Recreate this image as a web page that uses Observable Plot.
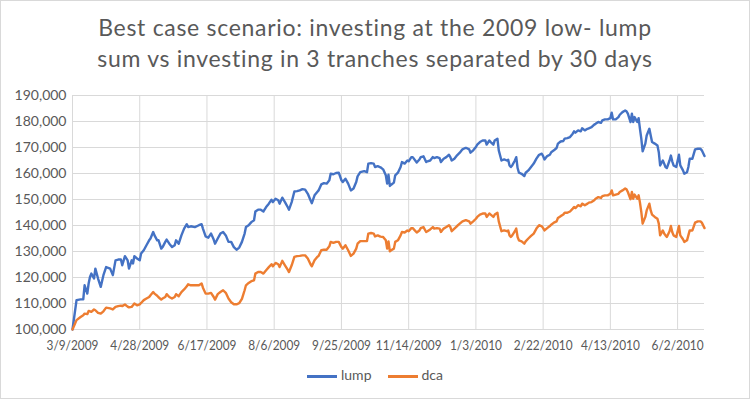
<!DOCTYPE html>
<html><head><meta charset="utf-8">
<script src="https://cdn.jsdelivr.net/npm/d3@7"></script>
<script src="https://cdn.jsdelivr.net/npm/@observablehq/plot@0.6"></script>
<style>
body{margin:0;background:#fff;}
#chart{position:relative;width:750px;height:399px;font-family:Lato,sans-serif;color:#595959;overflow:hidden;background:#fff}
#chart svg{position:absolute;left:0;top:0}
#title{position:absolute;left:0;top:12px;width:100%;text-align:center;font-size:23px;line-height:31px;letter-spacing:0.7px;white-space:nowrap}
#legend{position:absolute;top:365px;left:0;width:100%;text-align:center;font-size:14px;line-height:20px;white-space:nowrap}
#legend span.sw{display:inline-block;width:30px;height:2.5px;vertical-align:middle;margin:0 4px 0 0}
#legend span.item{margin:0 8px}
#border{position:absolute;left:0;top:0;width:750px;height:399px;box-sizing:border-box;border:1px solid #d9d9d9;pointer-events:none}
</style></head>
<body>
<div id="chart">
<div id="title">Best case scenario: investing at the 2009 low- lump<br>sum vs investing in 3 tranches separated by 30 days</div>
<div id="legend"></div>
<div id="border"></div>
</div>
<script>
const dates = ["2009-03-09","2009-03-12","2009-03-15","2009-03-17","2009-03-18","2009-03-20","2009-03-21","2009-03-22","2009-03-23","2009-03-25","2009-03-26","2009-03-28","2009-03-30","2009-04-01","2009-04-03","2009-04-06","2009-04-08","2009-04-10","2009-04-12","2009-04-14","2009-04-15","2009-04-17","2009-04-19","2009-04-20","2009-04-22","2009-04-23","2009-04-24","2009-04-26","2009-04-28","2009-04-29","2009-05-01","2009-05-03","2009-05-05","2009-05-06","2009-05-08","2009-05-09","2009-05-11","2009-05-12","2009-05-14","2009-05-15","2009-05-17","2009-05-18","2009-05-20","2009-05-22","2009-05-24","2009-05-25","2009-05-27","2009-05-29","2009-05-31","2009-06-02","2009-06-03","2009-06-05","2009-06-08","2009-06-11","2009-06-13","2009-06-14","2009-06-16","2009-06-18","2009-06-20","2009-06-22","2009-06-23","2009-06-25","2009-06-27","2009-06-29","2009-07-01","2009-07-03","2009-07-05","2009-07-07","2009-07-09","2009-07-11","2009-07-13","2009-07-15","2009-07-16","2009-07-18","2009-07-20","2009-07-22","2009-07-23","2009-07-25","2009-07-27","2009-07-29","2009-07-31","2009-08-02","2009-08-04","2009-08-05","2009-08-07","2009-08-09","2009-08-10","2009-08-12","2009-08-14","2009-08-16","2009-08-17","2009-08-19","2009-08-21","2009-08-23","2009-08-25","2009-08-27","2009-08-29","2009-08-31","2009-09-02","2009-09-03","2009-09-05","2009-09-07","2009-09-08","2009-09-10","2009-09-12","2009-09-14","2009-09-16","2009-09-17","2009-09-19","2009-09-21","2009-09-23","2009-09-25","2009-09-26","2009-09-28","2009-09-30","2009-10-02","2009-10-04","2009-10-06","2009-10-07","2009-10-09","2009-10-12","2009-10-14","2009-10-15","2009-10-17","2009-10-19","2009-10-20","2009-10-22","2009-10-24","2009-10-26","2009-10-28","2009-10-29","2009-10-30","2009-10-31","2009-11-01","2009-11-03","2009-11-04","2009-11-06","2009-11-08","2009-11-09","2009-11-11","2009-11-13","2009-11-14","2009-11-16","2009-11-17","2009-11-20","2009-11-22","2009-11-23","2009-11-25","2009-11-27","2009-11-28","2009-11-30","2009-12-02","2009-12-03","2009-12-05","2009-12-07","2009-12-08","2009-12-10","2009-12-12","2009-12-14","2009-12-15","2009-12-16","2009-12-18","2009-12-20","2009-12-22","2009-12-24","2009-12-26","2009-12-27","2009-12-29","2009-12-30","2010-01-01","2010-01-03","2010-01-04","2010-01-06","2010-01-08","2010-01-10","2010-01-11","2010-01-13","2010-01-14","2010-01-16","2010-01-17","2010-01-19","2010-01-20","2010-01-22","2010-01-24","2010-01-26","2010-01-27","2010-01-28","2010-01-29","2010-01-30","2010-02-01","2010-02-02","2010-02-03","2010-02-04","2010-02-06","2010-02-08","2010-02-09","2010-02-11","2010-02-13","2010-02-15","2010-02-17","2010-02-19","2010-02-21","2010-02-22","2010-02-23","2010-02-25","2010-02-27","2010-02-28","2010-03-02","2010-03-04","2010-03-05","2010-03-07","2010-03-09","2010-03-10","2010-03-12","2010-03-14","2010-03-16","2010-03-17","2010-03-18","2010-03-20","2010-03-22","2010-03-23","2010-03-25","2010-03-27","2010-03-28","2010-03-30","2010-04-01","2010-04-02","2010-04-04","2010-04-06","2010-04-07","2010-04-09","2010-04-11","2010-04-13","2010-04-14","2010-04-15","2010-04-17","2010-04-19","2010-04-20","2010-04-22","2010-04-24","2010-04-25","2010-04-26","2010-04-28","2010-04-29","2010-04-30","2010-05-01","2010-05-03","2010-05-04","2010-05-05","2010-05-06","2010-05-07","2010-05-09","2010-05-10","2010-05-12","2010-05-13","2010-05-14","2010-05-16","2010-05-18","2010-05-19","2010-05-20","2010-05-22","2010-05-23","2010-05-24","2010-05-25","2010-05-27","2010-05-28","2010-05-29","2010-05-30","2010-06-01","2010-06-03","2010-06-04","2010-06-06","2010-06-07","2010-06-09","2010-06-10","2010-06-11","2010-06-13","2010-06-15","2010-06-17","2010-06-19","2010-06-20","2010-06-22"];

// values in thousands of dollars
const lump = [100.0,111.3,111.6,111.6,117.0,113.8,117.7,120.2,121.5,119.6,123.4,119.6,116.4,120.9,124.0,123.4,120.9,126.6,126.9,126.9,124.7,128.2,126.6,123.4,126.6,125.4,128.2,127.3,126.6,129.2,130.5,132.4,134.3,135.0,137.5,136.2,134.3,134.3,131.1,131.7,133.7,134.6,133.0,131.7,132.4,134.3,133.0,136.2,138.8,140.5,139.4,139.7,139.4,140.1,140.5,138.8,135.8,135.3,136.9,134.6,133.0,135.0,136.9,137.5,136.2,133.7,133.7,131.7,130.7,131.5,133.7,136.9,139.4,140.1,141.3,142.0,145.4,146.1,146.1,145.4,147.1,148.4,149.9,149.0,150.3,149.7,148.4,150.7,149.0,147.1,146.1,149.0,153.1,153.2,153.5,154.0,153.8,152.2,149.7,148.6,151.6,152.9,153.5,155.8,156.3,156.1,157.4,159.9,159.7,160.2,160.3,157.4,156.7,158.0,156.1,153.5,154.2,156.7,158.9,160.5,160.9,160.5,163.8,164.0,163.8,162.5,162.8,162.4,161.6,159.3,156.1,159.5,155.2,155.7,156.5,159.3,160.3,162.5,164.4,163.8,165.0,164.7,166.3,166.3,164.2,165.4,166.3,166.6,164.4,164.7,165.0,166.3,165.9,166.3,165.9,164.4,165.7,166.3,167.2,166.3,165.0,165.7,167.0,168.0,169.3,169.8,169.8,169.3,168.0,168.9,170.2,171.1,172.1,172.7,172.7,171.1,172.7,172.1,171.1,172.7,173.4,168.9,165.0,165.4,165.0,165.3,163.1,162.5,163.1,165.0,166.3,162.1,160.3,159.9,159.0,160.3,161.2,162.5,163.8,165.7,167.2,167.6,166.7,165.4,166.7,167.2,168.2,168.9,169.8,171.5,172.3,172.5,173.4,173.6,174.0,175.3,176.2,175.7,176.6,176.2,177.4,176.6,177.2,177.4,177.8,178.8,179.1,179.8,179.5,180.4,180.8,180.8,181.3,183.4,180.8,180.8,181.7,182.6,183.6,184.2,183.9,183.0,179.8,183.0,179.8,181.7,179.8,181.3,177.2,173.4,168.5,171.5,174.6,177.2,174.6,172.1,171.5,170.8,168.2,163.1,165.0,163.8,162.5,162.1,165.0,166.9,164.7,163.1,162.5,167.2,163.1,161.2,159.9,160.5,162.5,165.7,165.7,169.3,169.5,169.5,168.9,166.7];

const dca = [100.0,103.6,104.8,105.5,106.1,105.9,107.1,107.0,106.8,107.7,107.4,106.4,106.1,107.0,108.4,108.1,107.7,108.7,109.0,109.2,109.0,109.6,108.8,108.5,108.7,109.3,110.0,109.3,109.7,110.2,111.3,111.9,112.5,113.2,114.4,113.8,113.0,112.4,111.5,111.9,112.5,113.6,112.5,111.9,112.5,113.6,112.8,114.4,115.4,116.6,117.4,117.0,117.0,117.0,117.7,116.1,113.8,113.8,114.1,112.5,111.5,113.6,114.4,115.1,114.1,111.9,110.5,109.7,109.7,110.1,111.8,115.1,117.0,117.9,118.6,118.9,121.5,122.1,122.1,121.5,122.8,124.0,125.1,124.3,125.6,125.1,124.0,126.4,124.7,123.0,122.1,124.7,127.9,128.2,128.3,128.5,128.5,127.3,125.1,124.3,126.6,127.9,128.3,130.5,130.7,130.7,132.0,133.7,133.3,133.7,133.7,131.7,131.1,132.4,130.5,128.3,129.2,131.1,133.0,134.0,134.0,134.0,136.9,137.1,136.9,135.8,136.2,135.7,135.6,134.3,131.1,133.9,130.1,130.5,131.1,133.7,134.3,136.2,137.5,137.3,138.1,137.8,139.0,139.0,137.3,138.1,139.0,139.4,137.5,137.8,138.5,139.4,138.8,139.0,138.8,137.5,138.8,139.4,140.1,139.4,137.8,138.8,139.8,140.7,141.6,142.0,142.0,141.6,140.7,141.6,142.6,143.3,144.2,144.6,144.6,143.3,144.6,144.2,143.3,144.2,144.9,141.6,137.8,138.1,137.8,138.1,136.2,135.6,136.2,137.8,138.8,135.6,134.3,133.9,133.0,133.9,135.0,136.0,136.9,138.8,140.1,139.7,139.0,138.1,139.0,139.8,140.3,141.1,141.6,142.9,143.6,144.2,144.9,144.9,145.4,146.5,147.1,146.7,147.8,147.4,148.4,147.8,148.4,148.8,149.0,149.7,150.3,150.9,150.6,151.3,151.6,151.6,152.2,153.5,151.6,151.9,152.2,152.9,153.5,154.2,153.9,152.9,150.1,152.9,150.3,151.9,150.3,151.6,148.8,145.2,140.7,143.3,145.8,148.4,145.8,144.2,143.3,142.6,140.7,136.2,138.1,136.9,136.2,135.6,137.8,139.8,137.5,136.2,135.6,139.8,136.2,134.7,133.7,134.3,136.2,138.1,138.1,141.1,141.6,141.6,141.1,139.0];

const seriesNames = ["lump", "dca"];
const seriesColors = ["#4472C4", "#ED7D31"];
const xTickLabels = ["2009-03-09","2009-04-28","2009-06-17","2009-08-06","2009-09-25","2009-11-14","2010-01-03","2010-02-22","2010-04-13","2010-06-02"];
const yTickValues = [100000,110000,120000,130000,140000,150000,160000,170000,180000,190000];

const parse = d3.utcParse("%Y-%m-%d");
const table = [];
[lump, dca].forEach((arr, si) => {
  arr.forEach((v, i) => table.push({date: parse(dates[i]), value: v * 1000, series: seriesNames[si]}));
});
const xTicks = xTickLabels.map(parse);

const chart = Plot.plot({
  width: 750,
  height: 399,
  marginLeft: 72,
  marginRight: 46,
  marginTop: 95,
  marginBottom: 70,
  style: {background: "transparent", fontFamily: "Lato, sans-serif", fontSize: "14px", color: "#595959", overflow: "visible"},
  x: {type: "utc", domain: [parse(dates[0]), parse(dates[dates.length - 1])], ticks: xTicks, tickFormat: d3.utcFormat("%-m/%-d/%Y"), tickSize: 0, tickPadding: 11, label: null},
  y: {domain: [100000, 190000], ticks: yTickValues, tickFormat: d3.format(","), tickSize: 0, tickPadding: 6, label: null},
  color: {domain: seriesNames, range: seriesColors},
  marks: [
    Plot.ruleY(yTickValues, {stroke: "#d9d9d9", strokeWidth: 1}),
    Plot.ruleX(xTicks, {stroke: "#d9d9d9", strokeWidth: 1}),
    Plot.line(table, {x: "date", y: "value", z: "series", stroke: "series", strokeWidth: 2.4, strokeLinejoin: "round", strokeLinecap: "round"})
  ]
});
document.getElementById("chart").insertBefore(chart, document.getElementById("title"));

// condense the x tick labels horizontally (narrow Excel-like font)
const xTexts = chart.querySelectorAll('g[aria-label^="x-axis"] text');
if (xTexts.length) {
  const w0 = xTexts[0].getComputedTextLength();
  const k = w0 > 0 ? 52 / w0 : 1;
  xTexts.forEach(t => {
    const w = t.getComputedTextLength();
    if (w > 0) {
      t.setAttribute("textLength", (w * k).toFixed(1));
      t.setAttribute("lengthAdjust", "spacingAndGlyphs");
    }
  });
}

const legend = document.getElementById("legend");
seriesNames.forEach((name, i) => {
  const item = document.createElement("span");
  item.className = "item";
  const sw = document.createElement("span");
  sw.className = "sw";
  sw.style.background = seriesColors[i];
  item.appendChild(sw);
  item.appendChild(document.createTextNode(name));
  legend.appendChild(item);
});
</script>
</body></html>
